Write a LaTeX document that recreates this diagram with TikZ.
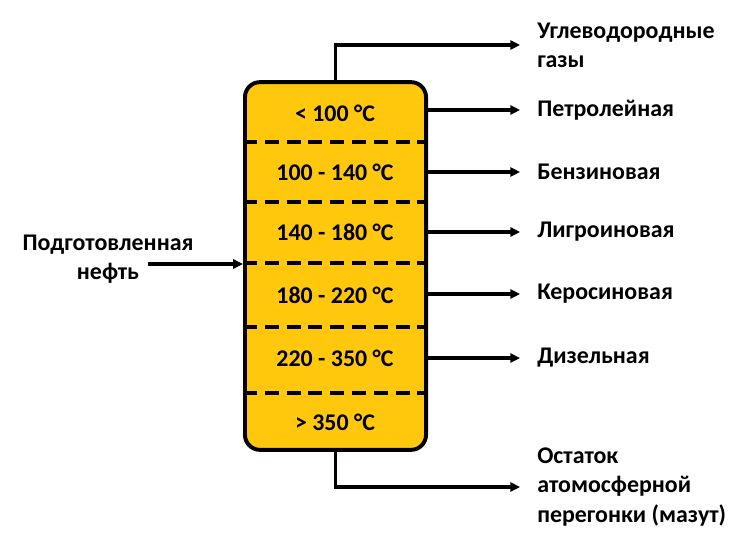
\documentclass[tikz,border=0pt]{standalone}
\usepackage{fontspec}
\setmainfont{Carlito}
\usetikzlibrary{arrows.meta}
\definecolor{zheltyj}{RGB}{255,200,12}
\tikzset{
  razdel/.style={line width=2.2pt, dash pattern=on 10pt off 5.5pt},
  potok/.style={line width=2.2pt, -{Triangle[length=7pt,width=6.5pt]}, shorten >=12pt},
  frakciya/.style={anchor=west, inner sep=0pt, align=left}
}
\begin{document}
\begin{tikzpicture}[x=0.025cm,y=-0.025cm,font=\fontsize{17}{20.8}\selectfont\bfseries]
        \useasboundingbox (0,0) rectangle (740,545);
        % Колонна
        \node[draw, fill=zheltyj, line width=2.8pt, rounded corners=0.375cm,
              minimum width=4.525cm, minimum height=9.19cm] (kolonna) at (335.5,266) {};
        % Границы зон
        \foreach \y in {142,202,263,327,393}
          \draw[razdel] (kolonna.west |- 0,\y) -- (kolonna.east |- 0,\y);
        % Температуры зон
        \node (z1) at (335,113) {< 100 °C};
        \node (z2) at (335,172) {100 - 140 °C};
        \node (z3) at (335,232) {140 - 180 °C};
        \node (z4) at (335,295) {180 - 220 °C};
        \node (z5) at (335,358) {220 - 350 °C};
        \node (z6) at (335,422) {> 350 °C};
        % Сырьё
        \node[align=center, inner sep=0pt] (neft) at (108,259) {Подготовленная\\нефть};
        \coordinate (vvod) at (148,264);
        \draw[potok, shorten >=0pt] (vvod) -- (vvod -| kolonna.west);
        % Фракции
        \node[frakciya] (gaz) at (537,45) {Углеводородные\\газы};
        \node[frakciya] (petr) at (537,110) {Петролейная};
        \node[frakciya] (benz) at (537,172) {Бензиновая};
        \node[frakciya] (ligr) at (537,232) {Лигроиновая};
        \node[frakciya] (kero) at (537,294) {Керосиновая};
        \node[frakciya] (diz) at (537,358) {Дизельная};
        \node[frakciya] (mazut) at (537,487) {Остаток\\атомосферной\\перегонки (мазут)};
        % Отводы
        \draw[potok] (kolonna.north) |- (gaz.west);
        \draw[potok] (kolonna.east |- petr.west) -- (petr.west);
        \draw[potok] (kolonna.east |- benz.west) -- (benz.west);
        \draw[potok] (kolonna.east |- ligr.west) -- (ligr.west);
        \draw[potok] (kolonna.east |- kero.west) -- (kero.west);
        \draw[potok] (kolonna.east |- diz.west) -- (diz.west);
        \draw[potok] (kolonna.south) |- (mazut.west);
\end{tikzpicture}
\end{document}
